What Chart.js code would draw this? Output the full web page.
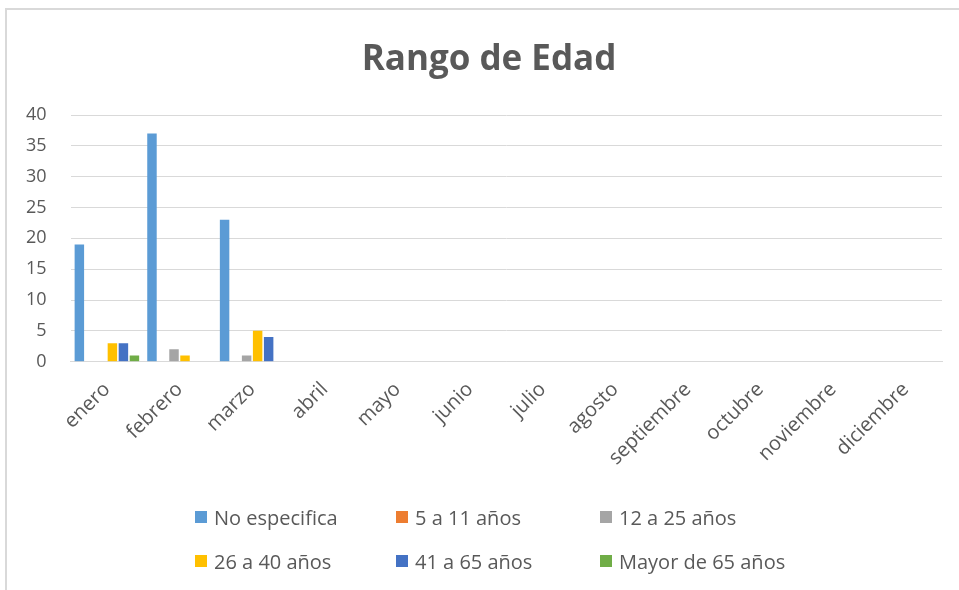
<!DOCTYPE html>
<html>
<head>
<meta charset="utf-8">
<script src="https://cdn.jsdelivr.net/npm/chart.js@4"></script>
<style>
  html, body { margin: 0; padding: 0; background: #fff; width: 959px; height: 590px; overflow: hidden; }
  #frame {
    position: absolute; left: 5px; top: 8px; width: 960px; height: 590px;
    border-left: 2px solid #d9d9d9; border-top: 2px solid #d9d9d9;
  }
  #wrap { position: absolute; left: 0; top: 0; width: 959px; height: 590px; }
  #leyenda {
    position: absolute; left: 195px; top: 495px;
    display: grid; grid-template-columns: 201px 204px auto; grid-auto-rows: 44px;
    font-family: "Open Sans", sans-serif; font-size: 20px; color: #595959;
  }
  #leyenda .item { display: flex; align-items: center; white-space: nowrap; }
  #leyenda .caja { width: 12px; height: 12px; margin-right: 7px; flex: none; }
</style>
</head>
<body>
<div id="frame"></div>
<div id="wrap"><canvas id="edad"></canvas></div>
<div id="leyenda"></div>
<script>
const meses = ['enero', 'febrero', 'marzo', 'abril', 'mayo', 'junio', 'julio',
  'agosto', 'septiembre', 'octubre', 'noviembre', 'diciembre'];

const noEspecifica = [19, 37, 23, 0, 0, 0, 0, 0, 0, 0, 0, 0];
const de5a11      = [0, 0, 0, 0, 0, 0, 0, 0, 0, 0, 0, 0];
const de12a25     = [0, 2, 1, 0, 0, 0, 0, 0, 0, 0, 0, 0];
const de26a40     = [3, 1, 5, 0, 0, 0, 0, 0, 0, 0, 0, 0];
const de41a65     = [3, 0, 4, 0, 0, 0, 0, 0, 0, 0, 0, 0];
const mayor65     = [1, 0, 0, 0, 0, 0, 0, 0, 0, 0, 0, 0];

const series = [
  ['No especifica', noEspecifica, '#5B9BD5'],
  ['5 a 11 años', de5a11, '#ED7D31'],
  ['12 a 25 años', de12a25, '#A5A5A5'],
  ['26 a 40 años', de26a40, '#FFC000'],
  ['41 a 65 años', de41a65, '#4472C4'],
  ['Mayor de 65 años', mayor65, '#70AD47']
];

const gris = '#595959';
const fuente = '"Open Sans", sans-serif';

// leyenda en HTML para poder alinearla en columnas como en Excel
const htmlLegend = {
  id: 'htmlLegend',
  afterUpdate(chart) {
    const box = document.getElementById('leyenda');
    box.innerHTML = '';
    chart.options.plugins.legend.labels.generateLabels(chart).forEach(item => {
      const div = document.createElement('div');
      div.className = 'item';
      const caja = document.createElement('span');
      caja.className = 'caja';
      caja.style.background = item.fillStyle;
      div.appendChild(caja);
      div.appendChild(document.createTextNode(item.text));
      box.appendChild(div);
    });
  }
};

// el título de Excel va centrado en todo el marco, no sobre el área del gráfico
const centrarTitulo = {
  id: 'centrarTitulo',
  afterLayout(chart) {
    const t = chart.titleBlock;
    if (!t) return;
    t.left += 17;
    t.right += 17;
  }
};

new Chart(document.getElementById('edad').getContext('2d'), {
  type: 'bar',
  data: {
    labels: meses,
    datasets: series.map(([label, data, color]) => ({
      label,
      data,
      backgroundColor: color,
      borderWidth: 0,
      categoryPercentage: 0.91,
      barPercentage: 0.86
    }))
  },
  options: {
    responsive: true,
    maintainAspectRatio: false,
    animation: false,
    layout: { padding: { left: 2, right: 17, top: 0, bottom: 104 } },
    plugins: {
      title: {
        display: true,
        text: 'Rango de Edad',
        color: gris,
        font: { family: fuente, size: 35, weight: 'bold' },
        padding: { top: 39, bottom: 34 }
      },
      legend: { display: false },
      tooltip: { enabled: false }
    },
    scales: {
      y: {
        min: 0,
        max: 40,
        ticks: { stepSize: 5, color: gris, font: { family: fuente, size: 18 }, padding: 24 },
        grid: { color: '#d9d9d9', drawTicks: false },
        border: { display: false }
      },
      x: {
        ticks: { color: gris, font: { family: fuente, size: 20 }, maxRotation: 45, minRotation: 45, padding: 16 },
        grid: { display: false, drawTicks: false },
        border: { display: true, color: '#d9d9d9' },
        afterFit(scale) {
          // las etiquetas giradas no deben empujar el área del gráfico
          scale.paddingLeft = 0;
          scale.paddingRight = 0;
        }
      }
    }
  },
  plugins: [htmlLegend, centrarTitulo]
});
</script>
</body>
</html>
